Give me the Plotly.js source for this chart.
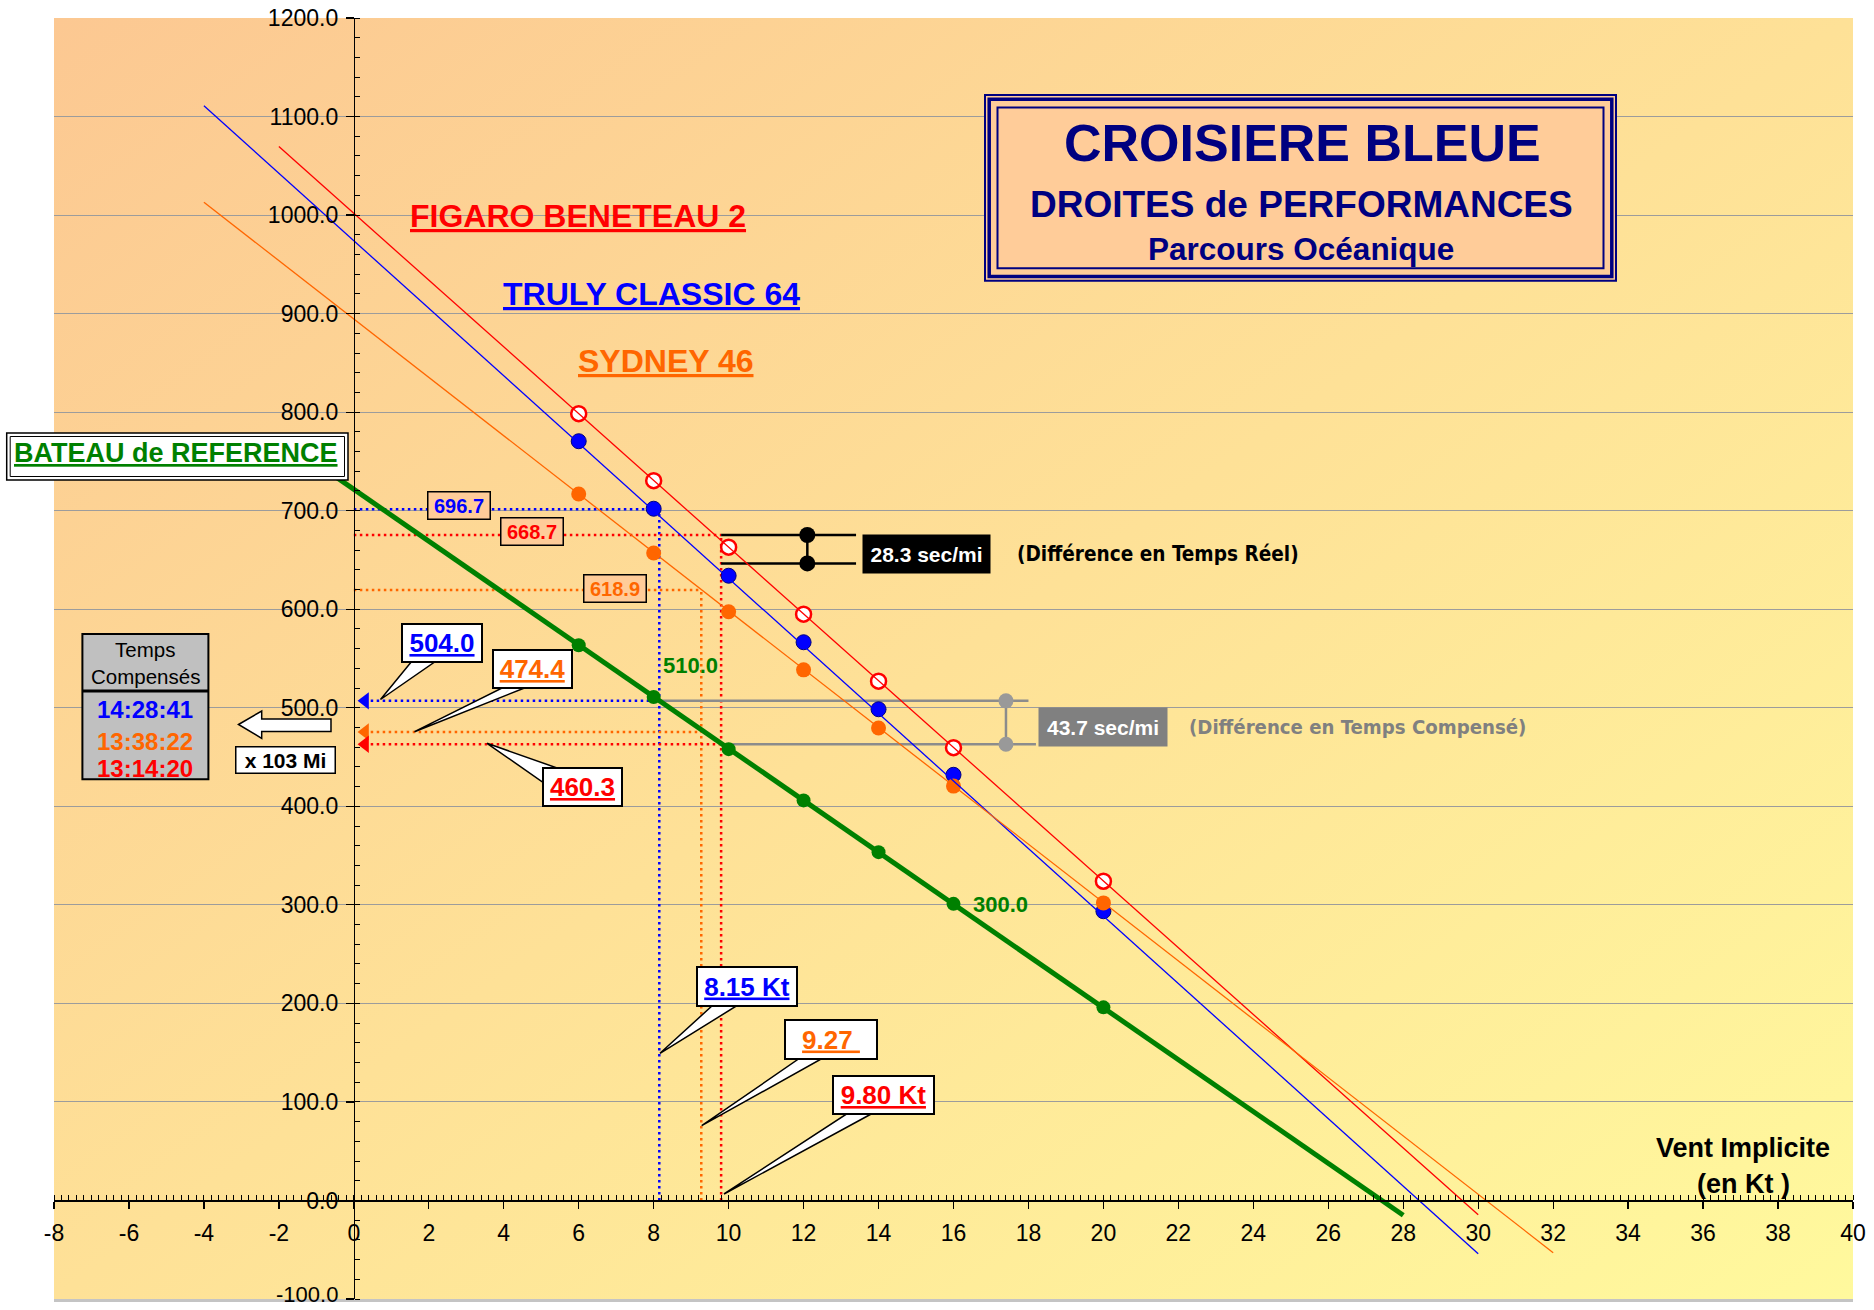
<!DOCTYPE html>
<html><head><meta charset="utf-8">
<script src="https://cdn.plot.ly/plotly-3.0.1.min.js"></script>
<style>html,body{margin:0;padding:0;background:#fff}#chart{width:1874px;height:1310px}</style>
</head><body><div id="chart"></div>
<script>
// ---------- data ----------
const windKt      = [6, 8, 10, 12, 14, 16, 20];
const refTimes    = [563.5, 511, 458, 406, 353.5, 301, 196];
const trulyTimes  = [770.5, 702, 634, 566.5, 498.5, 432, 293.5];
const figaroTimes = [798.5, 730.5, 663, 595, 527, 459.5, 324];
const sydneyTimes = [717, 657, 597.5, 538.5, 479.5, 420.5, 302];

const refLineX    = [-1, 28],  refLineY    = [748, -15];
const trulyLineX  = [-4, 30],  trulyLineY  = [1111, -54];
const figaroLineX = [-2, 30],  figaroLineY = [1069.5, -14.5];
const sydneyLineX = [-4, 32],  sydneyLineY = [1013, -53];

// boats: Truly Classic 64, Sydney 46, Figaro Beneteau 2
const boatNames        = ['TRULY CLASSIC 64', 'SYDNEY 46', 'FIGARO BENETEAU 2'];
const impliedWind      = [8.15, 9.27, 9.80];
const impliedWindText  = ['8.15 Kt', '9.27\u00a0', '9.80 Kt'];
const realTime         = [701.5, 619.5, 675.3];
const realTimeText     = ['696.7', '618.9', '668.7'];
const compTime         = [507, 475.5, 463];
const compTimeText     = ['504.0', '474.4', '460.3'];
const compClock        = ['14:28:41', '13:38:22', '13:14:20'];
const realDiffY = [675.3, 646.5], realDiffText = '28.3 sec/mi';
const compDiffY = [507, 463],     compDiffText = '43.7 sec/mi';
const refMarkText = ['510.0', '300.0'];

const xTicks    = [-8,-6,-4,-2,0,2,4,6,8,10,12,14,16,18,20,22,24,26,28,30,32,34,36,38,40];
const xTickText = ['-8','-6','-4','-2','0','2','4','6','8','10','12','14','16','18','20','22','24','26','28','30','32','34','36','38','40'];
const yTicks    = [-100,0,100,200,300,400,500,600,700,800,900,1000,1100,1200];
const yTickText = ['-100.0','0.0','100.0','200.0','300.0','400.0','500.0','600.0','700.0','800.0','900.0','1000.0','1100.0','1200.0'];

// ---------- styles ----------
const boatColors = ['#0000FF', '#FF6600', '#FF0000'];
const GREEN = '#008000', NAVY = '#000080';
const F = 'Liberation Sans, Arial, sans-serif';
const V = 'DejaVu Sans Condensed, DejaVu Sans, Verdana, sans-serif';
const L = 54, R = 21, T = 18, B = 11, W = 1874, H = 1310;
const PW = W - L - R, PH = H - T - B;
const PX = px => (px - L) / PW;
const PY = py => (H - B - py) / PH;

const traces = [];
const line = (x, y, color, width, dash) => ({type:'scatter', mode:'lines', x, y, line:{color, width, dash: dash || 'solid'}, hoverinfo:'skip', showlegend:false});
const DOT = '2.5px,3.5px';

// dotted helper lines
for (let i = 0; i < 3; i++) {
  traces.push(line([0, impliedWind[i]], [realTime[i], realTime[i]], boatColors[i], 2.5, DOT));
  traces.push(line([impliedWind[i], impliedWind[i]], [0, realTime[i]], boatColors[i], 2.5, DOT));
  traces.push(line([0.45, impliedWind[i]], [compTime[i], compTime[i]], boatColors[i], 2.5, DOT));
}
// measurement lines
traces.push(line([impliedWind[2], 13.4], [realDiffY[0], realDiffY[0]], '#000', 2.5));
traces.push(line([impliedWind[2], 13.4], [realDiffY[1], realDiffY[1]], '#000', 2.5));
traces.push(line([12.1, 12.1], realDiffY, '#000', 2.5));
traces.push(line([impliedWind[0], 18.0], [compDiffY[0], compDiffY[0]], '#8c8c8c', 2.5));
traces.push(line([impliedWind[2], 18.2], [compDiffY[1], compDiffY[1]], '#8c8c8c', 2.5));
traces.push(line([17.4, 17.4], compDiffY, '#8c8c8c', 2.5));

// series markers
traces.push({type:'scatter', mode:'markers', x:windKt, y:figaroTimes, name:boatNames[2],
  marker:{symbol:'circle', size:15, color:'#FFFFFF', line:{color:'#FF0000', width:2.5}}, showlegend:false});
traces.push({type:'scatter', mode:'markers', x:windKt, y:trulyTimes, name:boatNames[0],
  marker:{symbol:'circle', size:15, color:'#0000FF', line:{color:'#000080', width:1}}, showlegend:false});
traces.push({type:'scatter', mode:'markers', x:windKt, y:sydneyTimes, name:boatNames[1],
  marker:{symbol:'circle', size:15, color:'#FF6600', line:{width:0}}, showlegend:false});
// trend lines (over markers, as in reference)
traces.push(line(figaroLineX, figaroLineY, '#FF0000', 1.3));
traces.push(line(trulyLineX, trulyLineY, '#0000FF', 1.3));
traces.push(line(sydneyLineX, sydneyLineY, '#FF6600', 1.3));
// reference boat
traces.push(line(refLineX, refLineY, GREEN, 5));
traces.push({type:'scatter', mode:'markers', x:windKt, y:refTimes, name:'BATEAU de REFERENCE',
  marker:{symbol:'circle', size:14, color:GREEN}, showlegend:false});
// left arrows on y axis
traces.push({type:'scatter', mode:'markers', x:[0.3,0.3,0.3], y:compTime,
  marker:{symbol:'triangle-left', size:15, color:boatColors}, showlegend:false});
// measurement dots
traces.push({type:'scatter', mode:'markers', x:[12.1,12.1], y:realDiffY, marker:{size:16, color:'#000'}, showlegend:false});
traces.push({type:'scatter', mode:'markers', x:[17.4,17.4], y:compDiffY, marker:{size:15, color:'#999999'}, showlegend:false});

// ---------- shapes ----------
const rect = (x0, y0, x1, y1, o) => Object.assign({type:'rect', xref:'paper', yref:'paper', x0:PX(x0), x1:PX(x1), y0:PY(y1), y1:PY(y0), layer:'above'}, o);
const poly = (pts, o) => Object.assign({type:'path', xref:'paper', yref:'paper', layer:'above',
  path: 'M' + pts.map(p => PX(p[0]).toFixed(5) + ',' + PY(p[1]).toFixed(5)).join(' L') + ' Z'}, o);
const shapes = [
  rect(54, 1299, 1853, 1302, {fillcolor:'#c4c4c4', line:{width:0}, layer:'below'}),
  // title box
  rect(985, 95, 1616, 280.7, {fillcolor:'#FFCC99', line:{color:NAVY, width:2}}),
  rect(989.2, 99.2, 1611.8, 276.5, {line:{color:NAVY, width:3.5}}),
  rect(997.5, 107.5, 1603.5, 268.2, {line:{color:NAVY, width:2}}),
  // bateau de reference box
  rect(6.7, 433, 348, 480, {fillcolor:'#FFFFFF', line:{color:'#000', width:1.5}}),
  rect(10.2, 436.5, 344.5, 476.5, {line:{color:'#000', width:1}}),
  // temps compensés box
  rect(82.4, 634, 208.4, 779.3, {fillcolor:'#C0C0C0', line:{color:'#000', width:2}}),
  {type:'line', xref:'paper', yref:'paper', x0:PX(82.4), x1:PX(208.4), y0:PY(691), y1:PY(691), line:{color:'#000', width:3}, layer:'above'},
  // block arrow
  poly([[238.5,724.5],[261.7,711],[261.7,719],[331,719],[331,731.5],[261.7,731.5],[261.7,738.3]], {fillcolor:'#FFFFFF', line:{color:'#000', width:1.5}}),
];
// callout wedges
const wedges = [
  [[412,661],[436,661],[380.5,699.5]],
  [[504,687],[527,687],[414.5,731.7]],
  [[544,783],[560,769],[487,743.3]],
  [[713,1005],[738,1005],[660,1053.3]],
  [[800,1058],[823,1058],[701.7,1125.7]],
  [[848,1113],[873,1113],[724,1194]],
];
wedges.forEach(w => shapes.push(poly(w, {fillcolor:'#FFFFFF', line:{color:'#000', width:1.5}})));

// ---------- annotations ----------
const ann = (text, px, py, o) => Object.assign({xref:'paper', yref:'paper', x:PX(px), y:PY(py), text, showarrow:false,
  xanchor:'center', yanchor:'middle', font:{family:F, size:20, color:'#000'}}, o || {});
const boxed = (text, px, py, w, h, font, bg, bw) => ann(text, px, py, {font, bgcolor:bg, bordercolor:'#000', borderwidth:bw,
  borderpad:0, width:w - 2*bw, height:h - 2*bw, align:'center', valign:'middle'});
const bold = (size, color, extra) => Object.assign({family:F, size, color, weight:'bold'}, extra || {});
const U = {lineposition:'under'};

const annotations = [
  ann('CROISIERE BLEUE', 1302, 143, {font:bold(52, NAVY)}),
  ann('DROITES de PERFORMANCES', 1301.5, 204, {font:bold(37, NAVY)}),
  ann('Parcours Océanique', 1301, 249, {font:bold(31.5, NAVY)}),
  ann(boatNames[2], 577.5, 216, {font:bold(32, boatColors[2], U)}),
  ann(boatNames[0], 651, 293.5, {font:bold(32, boatColors[0], U)}),
  ann(boatNames[1], 665.5, 361, {font:bold(32, boatColors[1], U)}),
  ann('BATEAU de REFERENCE', 176, 453, {font:bold(27, GREEN, U)}),
  // real-time labels
  boxed(realTimeText[0], 458.6, 505.5, 64, 29, bold(20, boatColors[0]), '#FFCC99', 1.5),
  boxed(realTimeText[2], 532, 531.5, 64, 29, bold(20, boatColors[2]), '#FFCC99', 1.5),
  boxed(realTimeText[1], 614.6, 588, 64, 29, bold(20, boatColors[1]), '#FFCC99', 1.5),
  // compensated callouts
  boxed(compTimeText[0], 442, 643, 82, 40, bold(26, boatColors[0], U), '#FFFFFF', 2),
  boxed(compTimeText[1], 532.5, 669, 81, 40, bold(26, boatColors[1], U), '#FFFFFF', 2),
  boxed(compTimeText[2], 582.5, 787, 81, 40, bold(26, boatColors[2], U), '#FFFFFF', 2),
  // implied wind callouts
  boxed(impliedWindText[0], 746.7, 986.3, 102, 41, bold(26, boatColors[0], U), '#FFFFFF', 2),
  boxed(impliedWindText[1], 831, 1039.7, 94, 41, bold(26, boatColors[1], U), '#FFFFFF', 2),
  boxed(impliedWindText[2], 883, 1095, 103, 40, bold(26, boatColors[2], U), '#FFFFFF', 2),
  // differences
  ann(realDiffText, 926.5, 554, {font:bold(21, '#FFFFFF'), bgcolor:'#000000', width:127, height:38, borderpad:0}),
  ann('(Différence en Temps Réel)', 1015, 553.5, {xanchor:'left', font:{family:V, size:20.6, color:'#000', weight:'bold'}}),
  ann(compDiffText, 1102.7, 727, {font:bold(21, '#FFFFFF'), bgcolor:'#808080', width:128, height:38, borderpad:0}),
  ann('(Différence en Temps Compensé)', 1187, 727, {xanchor:'left', font:{family:V, size:20.2, color:'#808080', weight:'bold'}}),
  // reference marks
  ann(refMarkText[0], 690, 665, {font:bold(22, GREEN)}),
  ann(refMarkText[1], 970.7, 904.5, {xanchor:'left', font:bold(22, GREEN)}),
  // temps compensés
  ann('Temps', 145.4, 649.5, {font:{family:F, size:20.5, color:'#000'}}),
  ann('Compensés', 145.4, 676.5, {font:{family:F, size:20.5, color:'#000'}}),
  ann(compClock[0], 145.4, 710, {font:bold(24, boatColors[0])}),
  ann(compClock[1], 145.4, 741, {font:bold(24, boatColors[1])}),
  ann(compClock[2], 145.4, 768.5, {font:bold(24, boatColors[2])}),
  boxed('x 103 Mi', 285.5, 760, 101, 28, bold(21, '#000'), '#FFFFFF', 1.5),
  // axis title
  ann('Vent Implicite', 1743, 1148, {font:bold(27, '#000')}),
  ann('(en Kt )', 1743, 1184, {font:bold(27, '#000')}),
  // bottom y tick label, kept inside the page
  ann(yTickText[0], 340, 1309, {xanchor:'right', yanchor:'bottom', font:{family:F, size:22, color:'#000'}}),
];

// y tick labels: the lowest one is drawn as an annotation above
const yAxisTickText = yTickText.map((t, i) => i === 0 ? '' : t);

// ---------- background gradient ----------
const svg = '<svg xmlns="http://www.w3.org/2000/svg" width="1799" height="1281" viewBox="0 0 1799 1281" preserveAspectRatio="none">' +
  '<defs><linearGradient id="g" x1="0" y1="0" x2="1" y2="1">' +
  '<stop offset="0" stop-color="#FCC892"/><stop offset="0.5" stop-color="#FEE197"/><stop offset="1" stop-color="#FFF99D"/>' +
  '</linearGradient></defs><rect x="0" y="0" width="1799" height="1281" fill="url(#g)"/></svg>';

const layout = {
  width: W, height: H, autosize: false,
  margin: {l:L, r:R, t:T, b:B, pad:0},
  paper_bgcolor: '#FFFFFF', plot_bgcolor: 'rgba(0,0,0,0)',
  showlegend: false, hovermode: false,
  font: {family:F, color:'#000'},
  images: [{source:'data:image/svg+xml;charset=utf-8,' + encodeURIComponent(svg), xref:'paper', yref:'paper',
    x:0, y:1, sizex:1, sizey:1, xanchor:'left', yanchor:'top', sizing:'stretch', layer:'below'}],
  xaxis: {range:[-8, 40], anchor:'free', position:100/1300, showline:true, linecolor:'#000', linewidth:1.5,
    ticks:'outside', ticklen:7, tickwidth:1.3, tickcolor:'#000', tickmode:'array', tickvals:xTicks, ticktext:xTickText,
    tickfont:{family:F, size:23, color:'#000'}, ticklabelstandoff:4, ticklabeloverflow:'allow',
    showgrid:false, zeroline:false, fixedrange:true,
    minor:{ticks:'inside', ticklen:5, tickwidth:1, tickcolor:'#000', tickmode:'linear', tick0:0, dtick:0.2, showgrid:false}},
  yaxis: {range:[-100, 1200], anchor:'free', position:8/48, side:'left', showline:true, linecolor:'#000', linewidth:1.5,
    ticks:'outside', ticklen:8, tickwidth:1.3, tickcolor:'#000', tickmode:'array', tickvals:yTicks, ticktext:yAxisTickText,
    tickfont:{family:F, size:23, color:'#000'}, ticklabelstandoff:3, ticklabeloverflow:'allow',
    showgrid:true, gridcolor:'#9c9c9c', gridwidth:1, zeroline:false, fixedrange:true,
    minor:{ticks:'inside', ticklen:5, tickwidth:1, tickcolor:'#000', tickmode:'linear', tick0:0, dtick:20, showgrid:false}},
  shapes, annotations
};

Plotly.newPlot('chart', traces, layout, {staticPlot:true, displayModeBar:false});
</script></body></html>
